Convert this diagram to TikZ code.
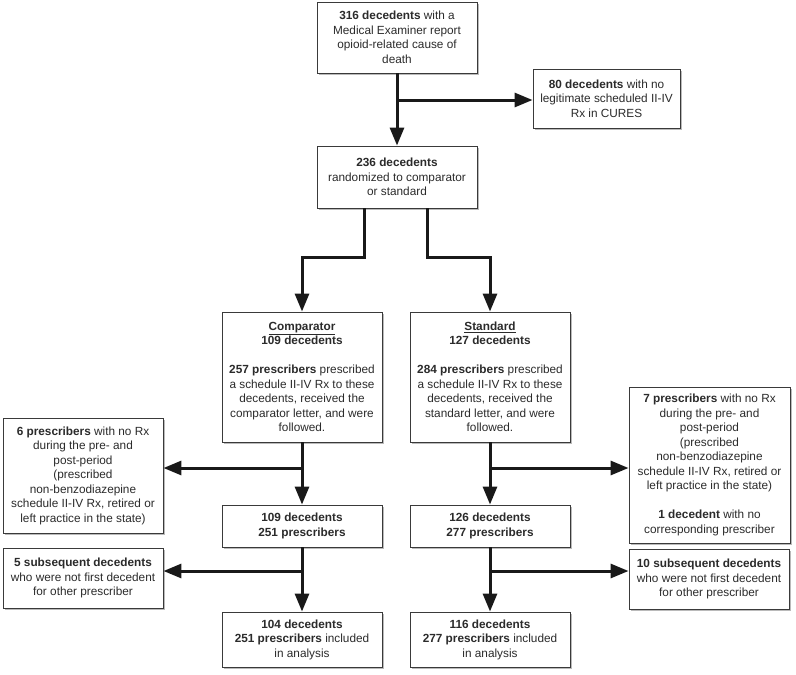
\documentclass[tikz,border=0pt]{standalone}
\usepackage{fontspec}
\setmainfont{Liberation Sans}
\usetikzlibrary{arrows.meta,shadows,calc}
\definecolor{txt}{HTML}{2B2B2B}
\definecolor{edge}{HTML}{3A3A3A}
\begin{document}
\begin{tikzpicture}[x=1pt,y=-1pt,
  box/.style={draw=edge,line width=0.9pt,fill=white,align=center,text=txt,
    font=\fontsize{11.8}{14.5}\selectfont,inner sep=2pt,
    drop shadow={shadow xshift=1.6pt,shadow yshift=-1.6pt,fill=black!60,opacity=0.45}},
  arr/.style={line width=3pt,draw=black!90,-{Triangle[length=18pt,width=14pt]}},
  ln/.style={line width=3pt,draw=black!90}]
\useasboundingbox (0,0) rectangle (796,675);

\node[box,minimum width=160pt,minimum height=71pt] (top) at (397,37.5)
  {\textbf{316 decedents} with a\\Medical Examiner report\\opioid-related cause of\\death};
\node[box,minimum width=147pt,minimum height=59pt] (b80) at (606.5,98.5)
  {\textbf{80 decedents} with no\\legitimate scheduled II-IV\\Rx in CURES};
\node[box,minimum width=160pt,minimum height=62pt] (b236) at (397,177)
  {\textbf{236 decedents}\\randomized to comparator\\or standard};
\node[box,minimum width=160pt,minimum height=130pt] (comp) at (302,377)
  {\underline{\textbf{Comparator}}\\\textbf{109 decedents}\\[14.5pt]\textbf{257 prescribers} prescribed\\a schedule II-IV Rx to these\\decedents, received the\\comparator letter, and were\\followed.};
\node[box,minimum width=160pt,minimum height=130pt] (std) at (490,377)
  {\underline{\textbf{Standard}}\\\textbf{127 decedents}\\[14.5pt]\textbf{284 prescribers} prescribed\\a schedule II-IV Rx to these\\decedents, received the\\standard letter, and were\\followed.};
\node[box,minimum width=160pt,minimum height=115pt] (six) at (83,475.5)
  {\textbf{6 prescribers} with no Rx\\during the pre- and\\post-period\\(prescribed\\non-benzodiazepine\\schedule II-IV Rx, retired or\\left practice in the state)};
\node[box,minimum width=161pt,minimum height=156pt] (seven) at (709.5,465)
  {\textbf{7 prescribers} with no Rx\\during the pre- and\\post-period\\(prescribed\\non-benzodiazepine\\schedule II-IV Rx, retired or\\left practice in the state)\\[14.5pt]\textbf{1 decedent} with no\\corresponding prescriber};
\node[box,minimum width=160pt,minimum height=42pt] (b109) at (302,526)
  {\textbf{109 decedents}\\\textbf{251 prescribers}};
\node[box,minimum width=160pt,minimum height=42pt] (b126) at (490,526)
  {\textbf{126 decedents}\\\textbf{277 prescribers}};
\node[box,minimum width=160pt,minimum height=60pt] (five) at (83,578)
  {\textbf{5 subsequent decedents}\\who were not first decedent\\for other prescriber};
\node[box,minimum width=160pt,minimum height=60pt] (ten) at (709,579)
  {\textbf{10 subsequent decedents}\\who were not first decedent\\for other prescriber};
\node[box,minimum width=160pt,minimum height=55pt] (b104) at (302,639.5)
  {\textbf{104 decedents}\\\textbf{251 prescribers} included\\in analysis};
\node[box,minimum width=160pt,minimum height=55pt] (b116) at (490,639.5)
  {\textbf{116 decedents}\\\textbf{277 prescribers} included\\in analysis};

\coordinate (j0) at (397,100);
\coordinate (j1) at (302,468);
\coordinate (j2) at (490,468);
\coordinate (j3) at (302,571);
\coordinate (j4) at (490,571);
\coordinate (sl) at (364,208);
\coordinate (sr) at (427,208);

\draw[arr] (top.south) -- (b236.north);
\draw[arr] (j0) -- (j0 -| b80.west);
\draw[arr] (sl) -- ++(0,49) -| (comp.north);
\draw[arr] (sr) -- ++(0,49) -| (std.north);
\draw[arr] (comp.south) -- (b109.north);
\draw[arr] (j1) -- (j1 -| six.east);
\draw[arr] (std.south) -- (b126.north);
\draw[arr] (j2) -- (j2 -| seven.west);
\draw[arr] (b109.south) -- (b104.north);
\draw[arr] (j3) -- (j3 -| five.east);
\draw[arr] (b126.south) -- (b116.north);
\draw[arr] (j4) -- (j4 -| ten.west);
\end{tikzpicture}
\end{document}
